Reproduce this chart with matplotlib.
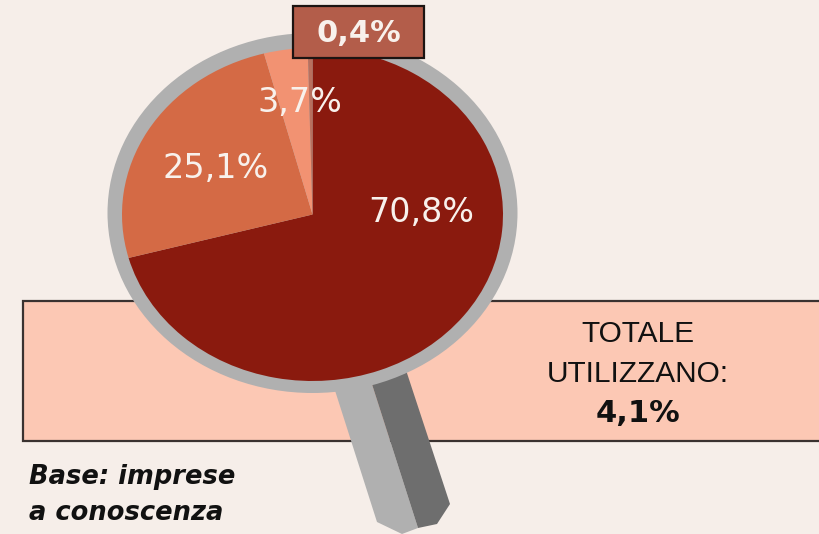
#!/usr/bin/env python3
import matplotlib
matplotlib.use('Agg')
import matplotlib.pyplot as plt
from matplotlib.patches import Ellipse, Polygon, Rectangle

# Shares in percent, clockwise from the top
shares = [70.8, 25.1, 3.7, 0.4]
slice_colors = ['#8a1a0e', '#d46a45', '#f29272', '#b9705e']
share_labels = [f'{v:.1f}%'.replace('.', ',') for v in shares]

total_title = ['TOTALE', 'UTILIZZANO:']
total_value = 4.1
base_note = ['Base: imprese', 'a conoscenza']

W, H = 820, 534
BG = '#f6eee9'
INK = '#111111'
LIGHT = '#f8f1ec'
GRAY = '#b0b0b0'

plt.rcParams['font.family'] = ['DejaVu Sans']

fig = plt.figure(figsize=(W / 100, H / 100), dpi=100, facecolor=BG)
ax = fig.add_axes([0, 0, 1, 1])
ax.set_xlim(0, W)
ax.set_ylim(H, 0)
ax.axis('off')

# Band behind the lens, runs off the right edge
ax.add_patch(Rectangle((23, 301), 830, 140, facecolor='#fcc8b4',
                       edgecolor='#3a3230', linewidth=1.6, zorder=1))

# Magnifier handle, top ends hidden under the ring
ax.add_patch(Polygon([(331, 378), (370, 378), (418, 528), (402, 534), (377, 522)],
                     facecolor=GRAY, edgecolor='none', zorder=2))
ax.add_patch(Polygon([(370, 378), (404, 364), (450, 504), (437, 524), (418, 528)],
                     facecolor='#6e6e6e', edgecolor='none', zorder=2))

# Lens ring (the picture is stretched sideways, so the circle is an ellipse)
ax.add_patch(Ellipse((312.5, 213), 410, 360, facecolor=GRAY, edgecolor='none', zorder=3))

# Pie in its own axes, auto aspect keeps the same stretch
left, right, top, bottom = 122, 503, 48, 381
ax_pie = fig.add_axes([left / W, 1 - bottom / H, (right - left) / W, (bottom - top) / H])
ax_pie.set_zorder(2)
ax_pie.patch.set_alpha(0)
ax_pie.pie(shares, colors=slice_colors, startangle=90, counterclock=False, radius=1)
ax_pie.set_xlim(-1, 1)
ax_pie.set_ylim(-1, 1)
ax_pie.set_aspect('auto')

# Overlay for everything above the pie
ax_top = fig.add_axes([0, 0, 1, 1])
ax_top.set_zorder(3)
ax_top.set_xlim(0, W)
ax_top.set_ylim(H, 0)
ax_top.axis('off')

ax_top.add_patch(Rectangle((293.5, 6), 131, 52, facecolor='#b35d4a',
                           edgecolor='#1c1412', linewidth=1.6))
ax_top.text(359, 33, share_labels[3], color=LIGHT, fontsize=22, fontweight='bold',
            ha='center', va='center')

label_spots = [(421, 213), (216, 169), (300, 103)]
for (x, y), txt in zip(label_spots, share_labels[:3]):
    ax_top.text(x, y, txt, color=LIGHT, fontsize=24, ha='center', va='center')

ax_top.text(638, 334, total_title[0], color=INK, fontsize=21.5,
            family='Liberation Sans', ha='center', va='center')
ax_top.text(638, 374, total_title[1], color=INK, fontsize=21.5,
            family='Liberation Sans', ha='center', va='center')
ax_top.text(638, 414, f'{total_value:.1f}%'.replace('.', ','), color=INK, fontsize=22,
            fontweight='bold', ha='center', va='center')

ax_top.text(29, 477, base_note[0], color=INK, fontsize=18.5, style='italic',
            fontweight='bold', ha='left', va='center')
ax_top.text(29, 513, base_note[1], color=INK, fontsize=18.5, style='italic',
            fontweight='bold', ha='left', va='center')

fig.savefig('out.png', dpi=100, facecolor=BG)
